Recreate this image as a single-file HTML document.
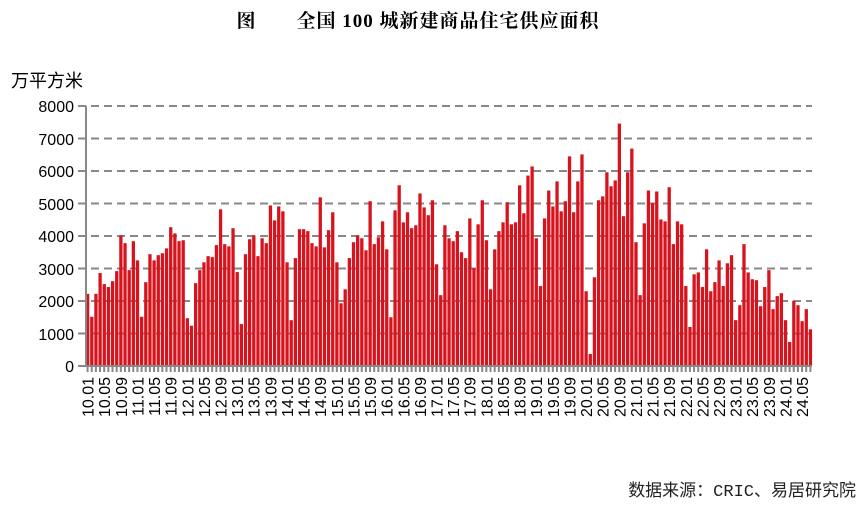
<!DOCTYPE html>
<html><head><meta charset="utf-8"><style>
body{margin:0;background:#fff;}
svg{display:block;}
</style></head><body>
<svg id="c" width="866" height="512" xmlns="http://www.w3.org/2000/svg">
<text x="418" y="27" text-anchor="middle" font-family="'Liberation Serif','Noto Serif CJK SC',serif" font-weight="bold" font-size="19" letter-spacing="1">图　　全国 100 城新建商品住宅供应面积</text>
<text x="11" y="87" font-family="'Liberation Sans','Noto Sans CJK SC',sans-serif" font-size="18">万平方米</text>
<g font-family="'Liberation Sans',sans-serif" font-size="16" text-anchor="end" fill="#000">
<text x="74" y="112">8000</text><text x="74" y="145">7000</text><text x="74" y="177">6000</text><text x="74" y="210">5000</text><text x="74" y="242">4000</text><text x="74" y="275">3000</text><text x="74" y="307">2000</text><text x="74" y="340">1000</text><text x="74" y="372">0</text>
</g>
<g id="grid" stroke="#888" stroke-width="2" stroke-dasharray="8,5">
<line x1="78" x2="812" y1="106" y2="106"/><line x1="78" x2="812" y1="138.5" y2="138.5"/><line x1="78" x2="812" y1="171" y2="171"/><line x1="78" x2="812" y1="203.5" y2="203.5"/><line x1="78" x2="812" y1="236" y2="236"/><line x1="78" x2="812" y1="268.5" y2="268.5"/><line x1="78" x2="812" y1="301" y2="301"/><line x1="78" x2="812" y1="333.5" y2="333.5"/>
</g>
<g id="bars" fill="#d7141e"></g>
<g id="ticks" stroke="#888" stroke-width="2"></g>
<line x1="86" x2="86" y1="106" y2="367" stroke="#888" stroke-width="2"/>
<line x1="78" x2="812" y1="366" y2="366" stroke="#888" stroke-width="2"/>
<g id="lab" font-family="'Liberation Sans',sans-serif" font-size="16" text-anchor="end">
<text>10.01</text><text>10.05</text><text>10.09</text><text>11.01</text><text>11.05</text><text>11.09</text><text>12.01</text><text>12.05</text><text>12.09</text><text>13.01</text><text>13.05</text><text>13.09</text><text>14.01</text><text>14.05</text><text>14.09</text><text>15.01</text><text>15.05</text><text>15.09</text><text>16.01</text><text>16.05</text><text>16.09</text><text>17.01</text><text>17.05</text><text>17.09</text><text>18.01</text><text>18.05</text><text>18.09</text><text>19.01</text><text>19.05</text><text>19.09</text><text>20.01</text><text>20.05</text><text>20.09</text><text>21.01</text><text>21.05</text><text>21.09</text><text>22.01</text><text>22.05</text><text>22.09</text><text>23.01</text><text>23.05</text><text>23.09</text><text>24.01</text><text>24.05</text>
</g>
<text x="856" y="496" text-anchor="end" font-family="'Liberation Mono','Noto Sans CJK SC',monospace" font-size="17" fill="#222">数据来源：CRIC、易居研究院</text>
</svg>
<script>
var v=[2220,1515,2220,2860,2520,2430,2610,2920,4020,3780,2950,3840,3250,1515,2580,3440,3250,3410,3470,3620,4270,4080,3840,3870,1470,1240,2550,2950,3190,3380,3350,3720,4820,3750,3680,4240,2890,1290,3440,3900,4020,3380,3930,3780,4940,4480,4910,4760,3190,1410,3320,4210,4210,4150,3780,3680,5190,3650,4180,4730,3190,1930,2360,3320,3810,4020,3930,3560,5070,3750,3960,4450,3590,1500,4790,5560,4420,4730,4240,4330,5310,4880,4640,5100,3130,2180,4330,3930,3840,4150,3500,3320,4540,3010,4360,5100,3870,2360,3590,4150,4420,5040,4360,4420,5560,4700,5860,6140,3930,2460,4540,5400,4910,5680,4760,5070,6450,4730,5680,6510,2300,370,2730,5100,5220,5960,5530,5710,7460,4610,5960,6690,3810,2180,4390,5400,5010,5370,4510,4450,5500,3750,4450,4360,2460,1200,2820,2880,2430,3590,2300,2580,3250,2460,3160,3410,1410,1870,3750,2880,2670,2640,1840,2430,2950,1750,2150,2240,1410,740,2000,1870,1380,1750,1130];
var ns="http://www.w3.org/2000/svg",s=4.154,x0=85.5;
var b=document.getElementById('bars'),t=document.getElementById('ticks');
v.forEach(function(d,i){var r=document.createElementNS(ns,'rect');var h=d*0.0325;
r.setAttribute('x',x0+i*s+0.5);r.setAttribute('width',3.3);r.setAttribute('y',366-h);r.setAttribute('height',h);b.appendChild(r);
var l=document.createElementNS(ns,'line');var xx=x0+i*s+s/2;l.setAttribute('x1',xx);l.setAttribute('x2',xx);l.setAttribute('y1',366);l.setAttribute('y2',372);t.appendChild(l);});
var L=document.getElementById('lab').children;
for(var k=0;k<L.length;k++){var cx=x0+k*4*s+s/2+6;L[k].setAttribute('transform','translate('+cx+',377) rotate(-90)');}
</script>
</body></html>
